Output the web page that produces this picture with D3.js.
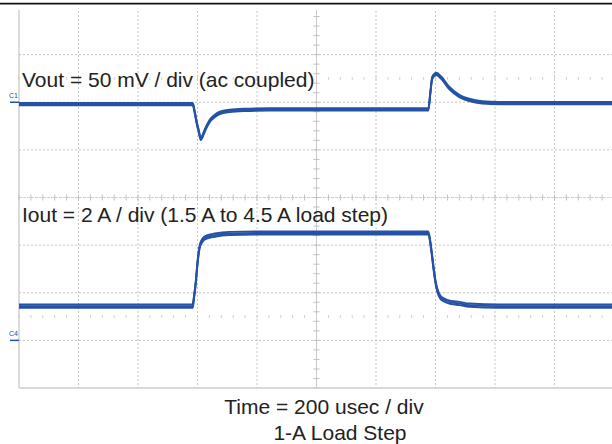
<!DOCTYPE html>
<html>
<head>
<meta charset="utf-8">
<script src="https://cdn.jsdelivr.net/npm/d3@7"></script>
<style>
  body { margin: 0; background: #fff; }
  svg { display: block; }
  text { font-family: "Liberation Sans", Arial, sans-serif; fill: #222; }
</style>
</head>
<body>
<svg width="612" height="444"></svg>
<script>
var width = 612, height = 444

// time base: 200 usec / div, 10 divisions
var timeDivs = d3.range(0, 2001, 200)
// vertical divisions (screen), 8 divisions
var vertDivs = d3.range(-4, 5, 1)

// Vout (mV, ac coupled, relative to C1 marker) vs time (usec)
var vTime = [0, 584, 591, 597, 604, 611, 617, 624, 641, 658, 675, 708, 758, 842, 1376, 1383, 1389, 1403, 1420, 1446, 1480, 1513, 1557, 1614, 2000]
var vOut  = [-2, -2, -11, -21, -30, -38.5, -35.5, -30, -19.6, -14.4, -11.2, -9.1, -8, -7.5, -7.5, 10.8, 25.5, 29.7, 25.5, 15, 6.6, 2.4, -0.2, -1, -1]

// Iout (A) vs time (usec)
var iTime = [0, 584, 587, 594, 601, 607, 617, 631, 658, 708, 809, 1376, 1386, 1393, 1400, 1406, 1416, 1430, 1453, 1480, 1514, 1614, 2000]
var iOut  = [1.44, 1.44, 1.69, 2.41, 3.37, 3.92, 4.21, 4.34, 4.42, 4.49, 4.51, 4.51, 3.79, 3.08, 2.45, 2.11, 1.82, 1.69, 1.59, 1.55, 1.48, 1.44, 1.44]

var c1Offset = 2, c1Scale = 50   // div, mV/div
var c4Offset = -3, c4Scale = 2   // div, A/div

var x = d3.scaleLinear().domain([0, 2000]).range([19, 614])
var yDiv = d3.scaleLinear().domain([-4, 4]).range([388, 7])

var svg = d3.select('svg')
var traceColor = '#2452a6'

// top black rule
svg.append('line')
  .attr('x1', 0).attr('x2', width)
  .attr('y1', 3.7).attr('y2', 3.7)
  .attr('stroke', '#111').attr('stroke-width', 1.8)

svg.append('clipPath').attr('id', 'plot')
  .append('rect').attr('x', 0).attr('y', 10).attr('width', width).attr('height', 380)

var grid = svg.append('g').attr('clip-path', 'url(#plot)')

// dashed grid
grid.selectAll('.vgrid')
  .data(timeDivs.filter(function(t) { return t != 0 && t != 1000 }))
  .enter().append('line').attr('class', 'vgrid')
  .attr('x1', d => x(d)).attr('x2', d => x(d))
  .attr('y1', yDiv(4)).attr('y2', yDiv(-4))
  .attr('stroke', '#c4c4c4').attr('stroke-width', 1).attr('stroke-dasharray', '2,2')

grid.selectAll('.hgrid')
  .data(vertDivs.filter(function(d) { return d != 0 && d != -4 && d != 4 }))
  .enter().append('line').attr('class', 'hgrid')
  .attr('x1', x(0)).attr('x2', width)
  .attr('y1', d => yDiv(d)).attr('y2', d => yDiv(d))
  .attr('stroke', '#c4c4c4').attr('stroke-width', 1).attr('stroke-dasharray', '2,2')

// center cross with minor ticks
grid.append('line')
  .attr('x1', x(1000)).attr('x2', x(1000))
  .attr('y1', yDiv(4)).attr('y2', yDiv(-4))
  .attr('stroke', '#c8c8c8').attr('stroke-width', 1)
grid.append('line')
  .attr('x1', x(0)).attr('x2', width)
  .attr('y1', yDiv(0)).attr('y2', yDiv(0))
  .attr('stroke', '#d0d0d0').attr('stroke-width', 1).attr('stroke-dasharray', '3,1')

grid.selectAll('.vtick')
  .data(d3.range(-4, 4.01, 0.2))
  .enter().append('line').attr('class', 'vtick')
  .attr('x1', x(1000) - 3).attr('x2', x(1000) + 3)
  .attr('y1', d => yDiv(d)).attr('y2', d => yDiv(d))
  .attr('stroke', '#c0c0c0').attr('stroke-width', 1)

var minorT = d3.range(0, 2001, 40)
;[0, 2.5, -2.5].forEach(function(row) {
  grid.selectAll('.htick' + (row * 10 + 30))
    .data(minorT)
    .enter().append('line')
    .attr('x1', d => x(d)).attr('x2', d => x(d))
    .attr('y1', yDiv(row) - (row == 0 ? 3 : 1.5)).attr('y2', yDiv(row) + (row == 0 ? 3 : 1.5))
    .attr('stroke', row == 0 ? '#c0c0c0' : '#cfcfcf').attr('stroke-width', 1)
})

// borders
svg.append('line')
  .attr('x1', x(0)).attr('x2', x(0))
  .attr('y1', 10).attr('y2', yDiv(-4))
  .attr('stroke', '#c4c4c4').attr('stroke-width', 1.2)
svg.append('line')
  .attr('x1', x(0)).attr('x2', width)
  .attr('y1', yDiv(-4)).attr('y2', yDiv(-4))
  .attr('stroke', '#cdcdcd').attr('stroke-width', 1.6)

// traces
var vData = vTime.map(function(t, i) { return {t: t, v: vOut[i]} })
var iData = iTime.map(function(t, i) { return {t: t, v: iOut[i]} })

var vLine = d3.line()
  .x(d => x(d.t))
  .y(d => yDiv(c1Offset + d.v / c1Scale))
  .curve(d3.curveMonotoneX)
var iLine = d3.line()
  .x(d => x(d.t))
  .y(d => yDiv(c4Offset + d.v / c4Scale))
  .curve(d3.curveMonotoneX)

// noise envelope: the trace stacked with small vertical offsets
function drawTrace(data, line, spread) {
  var g = svg.append('g')
  ;[-spread, 0, spread].forEach(function(dy) {
    g.append('path')
      .datum(data)
      .attr('transform', 'translate(0,' + dy + ')')
      .attr('d', line)
      .attr('fill', 'none')
      .attr('stroke', traceColor)
      .attr('stroke-width', 1.9)
      .attr('stroke-linejoin', 'round')
  })
}
drawTrace(vData, vLine, 1.2)
drawTrace(iData, iLine, 1.6)

// channel markers
function marker(label, y) {
  svg.append('line')
    .attr('x1', 10).attr('x2', x(0))
    .attr('y1', y).attr('y2', y)
    .attr('stroke', traceColor).attr('stroke-width', 1.5)
  svg.append('text')
    .attr('x', 9).attr('y', y - 4)
    .style('font-size', '7px').style('fill', traceColor)
    .text(label)
}
marker('C1', yDiv(c1Offset))
marker('C4', yDiv(c4Offset))

// labels
svg.append('text').attr('x', 22).attr('y', 87)
  .style('font-size', '21px').text('Vout = 50 mV / div (ac coupled)')
svg.append('text').attr('x', 22).attr('y', 222)
  .style('font-size', '21px').text('Iout = 2 A / div (1.5 A to 4.5 A load step)')
svg.append('text').attr('x', 324).attr('y', 414).attr('text-anchor', 'middle')
  .style('font-size', '21px').text('Time = 200 usec / div')
svg.append('text').attr('x', 340).attr('y', 440).attr('text-anchor', 'middle')
  .style('font-size', '21px').text('1-A Load Step')
</script>
</body>
</html>
